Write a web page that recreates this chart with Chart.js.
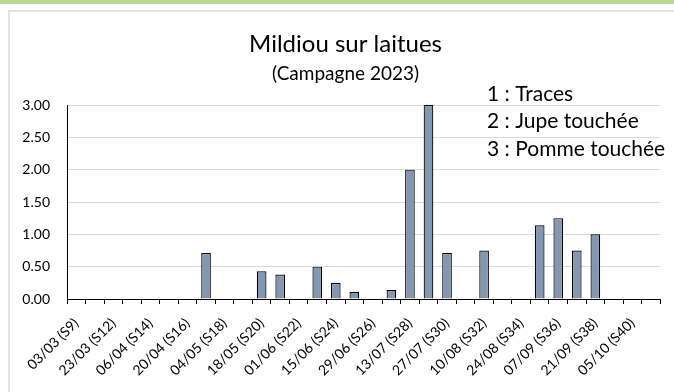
<!DOCTYPE html>
<html>
<head>
<meta charset="utf-8">
<script src="https://cdn.jsdelivr.net/npm/chart.js@4.4.1/dist/chart.umd.min.js"></script>
<style>
    html, body { margin: 0; padding: 0; background: #ffffff; }
    body { width: 674px; height: 392px; position: relative; overflow: hidden; }
    .top-strip { position: absolute; left: 0; top: 0; width: 674px; height: 4px; background: #b8da93; }
    .frame { position: absolute; left: 8px; top: 10px; right: 0; bottom: 0; border-top: 2px solid #e4e4e4; border-left: 2px solid #e4e4e4; }
    #mildiouChart { position: absolute; left: 0; top: 0; }
</style>
</head>
<body>
<div class="top-strip"></div>
<div class="frame"></div>
<canvas id="mildiouChart" width="674" height="392"></canvas>

<script>
// Semaines d'observation (une étiquette sur deux est affichée)
const weeks = [
    '03/03 (S9)', '16/03 (S11)', '23/03 (S12)', '30/03 (S13)', '06/04 (S14)', '13/04 (S15)',
    '20/04 (S16)', '27/04 (S17)', '04/05 (S18)', '11/05 (S19)', '18/05 (S20)', '25/05 (S21)',
    '01/06 (S22)', '08/06 (S23)', '15/06 (S24)', '22/06 (S25)', '29/06 (S26)', '06/07 (S27)',
    '13/07 (S28)', '20/07 (S29)', '27/07 (S30)', '03/08 (S31)', '10/08 (S32)', '17/08 (S33)',
    '24/08 (S34)', '31/08 (S35)', '07/09 (S36)', '14/09 (S37)', '21/09 (S38)', '28/09 (S39)',
    '05/10 (S40)', '12/10 (S41)'
];

// Note moyenne d'attaque (null = pas de mildiou observé)
const severity = [
    null, null, null, null, null, null,
    null, 0.71, null, null, 0.43, 0.38,
    null, 0.50, 0.25, 0.11, null, 0.14,
    2.00, 3.00, 0.71, null, 0.75, null,
    null, 1.14, 1.25, 0.75, 1.00, null,
    null, null
];

// Echelle de notation
const scaleNotes = ['1 : Traces', '2 : Jupe touchée', '3 : Pomme touchée'];

const chartTitle = 'Mildiou sur laitues';
const chartSubtitle = '(Campagne 2023)';

const yMax = 3;
const yStep = 0.5;

const FONT = "Lato, 'Open Sans', sans-serif";

// Titre, sous-titre et échelle de notation dessinés directement sur le canvas
const textBlocksPlugin = {
    id: 'textBlocks',
    afterDraw: function (chart) {
        const ctx = chart.ctx;
        ctx.save();
        ctx.fillStyle = '#000000';

        ctx.textAlign = 'center';
        ctx.textBaseline = 'middle';
        ctx.font = "24px " + FONT;
        ctx.fillText(chartTitle, 345.5, 44.6);
        ctx.font = "19px " + FONT;
        ctx.fillText(chartSubtitle, 345.5, 74);

        ctx.textAlign = 'left';
        ctx.textBaseline = 'alphabetic';
        ctx.font = "21px " + FONT;
        scaleNotes.forEach(function (txt, i) {
            ctx.fillText(txt, 487, 101 + i * 27.3);
        });
        ctx.restore();
    }
};

const ctx = document.getElementById('mildiouChart').getContext('2d');

new Chart(ctx, {
    type: 'bar',
    data: {
        labels: weeks,
        datasets: [{
            label: 'Mildiou',
            data: severity,
            backgroundColor: '#8497b0',
            borderColor: '#000000',
            borderWidth: 1.2,
            borderSkipped: 'bottom',
            barPercentage: 0.52,
            categoryPercentage: 1.0
        }]
    },
    options: {
        responsive: false,
        animation: false,
        layout: {
            padding: { left: 0, right: 12, top: 105, bottom: 0 }
        },
        plugins: {
            legend: { display: false },
            tooltip: { enabled: false },
            title: { display: false }
        },
        scales: {
            x: {
                offset: true,
                grid: {
                    display: true,
                    offset: true,
                    drawOnChartArea: false,
                    drawTicks: true,
                    tickLength: 5,
                    color: '#000000'
                },
                border: { display: true, color: '#000000', width: 1 },
                ticks: {
                    autoSkip: false,
                    minRotation: 45,
                    maxRotation: 45,
                    padding: 11,
                    color: '#000000',
                    font: { family: FONT, size: 14 },
                    callback: function (value, index) {
                        return index % 2 === 0 ? weeks[index] : '';
                    }
                },
                afterFit: function (scale) {
                    scale.height = 93;
                }
            },
            y: {
                min: 0,
                max: yMax,
                grid: {
                    color: '#d9d9d9',
                    lineWidth: 1,
                    drawTicks: false
                },
                border: { display: true, color: '#000000', width: 1 },
                ticks: {
                    stepSize: yStep,
                    padding: 17,
                    color: '#000000',
                    font: { family: FONT, size: 14 },
                    callback: function (value) {
                        return Number(value).toFixed(2);
                    }
                },
                afterFit: function (scale) {
                    scale.width = 67;
                }
            }
        }
    },
    plugins: [textBlocksPlugin]
});
</script>
</body>
</html>
